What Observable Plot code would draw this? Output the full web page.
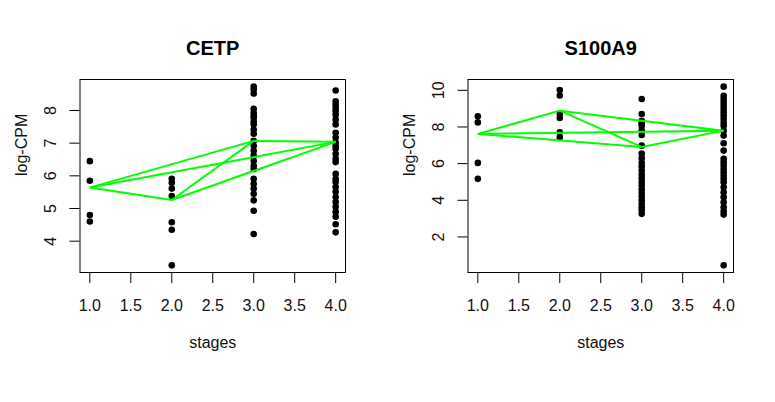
<!DOCTYPE html>
<html>
<head>
<meta charset="utf-8">
<script src="https://cdn.jsdelivr.net/npm/d3@7"></script>
<script src="https://cdn.jsdelivr.net/npm/@observablehq/plot@0.6"></script>
<style>
  html, body { margin: 0; padding: 0; background: #fff; }
  #wrap { display: flex; width: 775px; height: 402px; }
</style>
</head>
<body>
<div id="wrap"></div>
<script>
// ---- data ----
const stages = [1, 2, 3, 4];
const xTicks = [1, 1.5, 2, 2.5, 3, 3.5, 4];

const cetpTitle = "CETP";
const cetpStage1 = [6.45, 5.85, 4.80, 4.60];
const cetpStage2 = [5.91, 5.79, 5.61, 5.38, 4.58, 4.35, 3.26];
const cetpStage3 = [8.73, 8.64, 8.52, 8.05, 7.93, 7.85, 7.78, 7.66, 7.58, 7.42, 7.29, 7.07, 6.92, 6.77, 6.62, 6.46, 6.31, 6.21, 5.91, 5.76, 5.61, 5.45, 5.25, 4.93, 4.22];
const cetpStage4 = [8.61, 8.28, 8.18, 8.08, 7.98, 7.87, 7.72, 7.57, 7.32, 7.17, 7.02, 6.92, 6.82, 6.67, 6.52, 6.42, 6.06, 5.91, 5.81, 5.66, 5.51, 5.35, 5.20, 5.05, 4.90, 4.75, 4.52, 4.27];
const cetpCenters = [5.64, 5.26, 7.07, 7.04];
const cetpYTicks = [4, 5, 6, 7, 8];

const s100Title = "S100A9";
const s100Stage1 = [8.58, 8.25, 6.04, 5.17];
const s100Stage2 = [10.02, 9.72, 8.71, 8.49, 7.71, 7.43];
const s100Stage3 = [9.53, 8.71, 8.34, 8.20, 8.07, 7.80, 7.56, 6.98, 6.55, 6.30, 6.05, 5.85, 5.62, 5.40, 5.20, 5.00, 4.80, 4.60, 4.40, 4.20, 4.00, 3.80, 3.62, 3.45, 3.26];
const s100Stage4 = [10.20, 9.70, 9.52, 9.34, 9.16, 8.98, 8.80, 8.62, 8.44, 8.25, 8.07, 7.80, 7.53, 7.11, 6.71, 6.26, 6.08, 5.90, 5.71, 5.53, 5.35, 5.17, 4.99, 4.71, 4.44, 4.17, 3.89, 3.62, 3.40, 3.22, 0.45];
const s100Centers = [7.62, 8.89, 6.91, 7.80];
const s100YTicks = [2, 4, 6, 8, 10];

const xLabel = "stages";
const yLabel = "log-CPM";

// ---- helpers ----
function rangeExt(values) {           // R's default 4% axis extension
  const [lo, hi] = d3.extent(values);
  const pad = (hi - lo) * 0.04;
  return [lo - pad, hi + pad];
}

function panel(title, groups, centers, yTicks, width) {
  const points = groups.flatMap((vals, i) => vals.map(v => ({stage: stages[i], value: v})));
  const links = [];
  for (let i = 0; i < centers.length; i++)
    for (let j = i + 1; j < centers.length; j++)
      links.push({x1: stages[i], y1: centers[i], x2: stages[j], y2: centers[j]});
  const font = "Liberation Sans, Arial, sans-serif";
  return Plot.plot({
    width,
    height: 402,
    marginLeft: 79.5,
    marginRight: width - 345,
    marginTop: 79,
    marginBottom: 130,
    style: {fontFamily: font, background: "#fff", overflow: "visible"},
    x: {domain: rangeExt(stages), axis: null},
    y: {domain: rangeExt(points.map(d => d.value)), axis: null},
    marks: [
      Plot.frame({stroke: "#000", strokeWidth: 1}),
      Plot.axisX({ticks: xTicks, tickSize: 11, tickPadding: 16, fontSize: 16,
                  tickFormat: d3.format(".1f"), stroke: "#000", fill: "#111", strokeWidth: 1}),
      Plot.axisY({ticks: yTicks, tickSize: 10, tickPadding: 0, tickFormat: () => "", stroke: "#000", strokeWidth: 1}),
      Plot.text(yTicks, {y: d => d, text: d => String(d), frameAnchor: "left", dx: -29,
                         rotate: -90, fontSize: 16, fill: "#111", textAnchor: "middle", lineAnchor: "middle"}),
      Plot.dot(points, {x: "stage", y: "value", r: 3.3, fill: "#000", stroke: null}),
      Plot.link(links, {x1: "x1", y1: "y1", x2: "x2", y2: "y2", stroke: "#00ff00", strokeWidth: 2}),
      Plot.text([title], {frameAnchor: "top", dy: -39, fontSize: 20, fontWeight: "bold", fill: "#000"}),
      Plot.text([xLabel], {frameAnchor: "bottom", dy: 75, fontSize: 16, fill: "#111"}),
      Plot.text([yLabel], {frameAnchor: "left", dx: -58, rotate: -90, fontSize: 16, fill: "#111"})
    ]
  });
}

const wrap = document.getElementById("wrap");
wrap.append(panel(cetpTitle, [cetpStage1, cetpStage2, cetpStage3, cetpStage4], cetpCenters, cetpYTicks, 388));
wrap.append(panel(s100Title, [s100Stage1, s100Stage2, s100Stage3, s100Stage4], s100Centers, s100YTicks, 387));
</script>
</body>
</html>
